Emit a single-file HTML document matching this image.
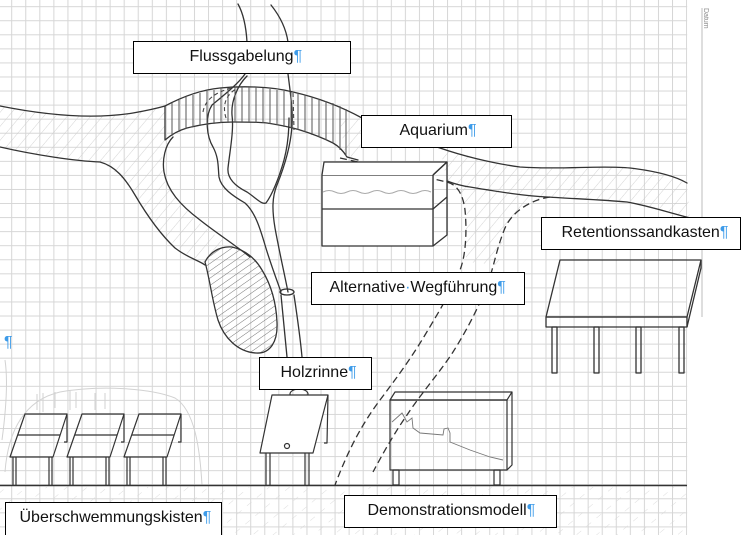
<!DOCTYPE html>
<html><head><meta charset="utf-8">
<style>
html,body{margin:0;padding:0;background:#fff;}
#w{position:relative;width:747px;height:535px;overflow:hidden;background:#fff;}
svg{position:absolute;left:0;top:0;}
.lb{position:absolute;box-sizing:border-box;border:1.5px solid #000;background:#fff;font-family:"Liberation Sans",sans-serif;font-size:16px;color:#111;white-space:nowrap;line-height:30px;height:33px;}
.p{color:#3d9be9;}
</style></head><body><div id="w">
<svg width="747" height="535" viewBox="0 0 747 535" xmlns="http://www.w3.org/2000/svg">
<defs>
<pattern id="grid" x="11.2" y="6.2" width="14.06" height="14.06" patternUnits="userSpaceOnUse">
<path d="M0.5,0 L0.5,14.06 M0,0.5 L14.06,0.5" stroke="#d6d6d6" stroke-width="1" fill="none"/>
</pattern>
<pattern id="lh" width="9" height="9" patternUnits="userSpaceOnUse" patternTransform="rotate(40)">
<line x1="0" y1="0" x2="0" y2="9" stroke="#c9c9c9" stroke-width="0.8"/>
</pattern>
<pattern id="lh2" width="13" height="13" patternUnits="userSpaceOnUse" patternTransform="rotate(50)">
<line x1="0" y1="0" x2="0" y2="6" stroke="#d4d4d4" stroke-width="0.8"/>
</pattern>
<pattern id="dh" width="6" height="6" patternUnits="userSpaceOnUse" patternTransform="rotate(55)">
<line x1="0" y1="0" x2="0" y2="6" stroke="#666" stroke-width="0.9"/>
</pattern>
</defs>
<rect x="0" y="0" width="687.2" height="535" fill="url(#grid)"/>
<!-- right paper edge -->
<line x1="702" y1="8" x2="702" y2="317" stroke="#bdbdbd" stroke-width="1"/>
<text x="0" y="0" transform="translate(704,8) rotate(90)" font-family="Liberation Sans, sans-serif" font-size="7" fill="#888">Datum</text>

<!-- light hatched regions -->
<path d="M0,106 C40,114 90,120 133,113 C150,110 158,108 165,106 L165,140 C160,150 162,165 168,182 C178,205 200,225 225,242 L205,264 C185,255 165,238 150,220 C138,200 122,172 100,162 C70,160 30,154 0,147 Z" fill="url(#lh)"/>
<path d="M440,148 C470,157 500,164 520,167 C560,170 600,165 630,168 C655,171 675,176 687,183 L690,218 C672,212 655,206 627,202 C590,199 560,198 547,197 C530,202 512,212 505,228 L498,265 L466,262 L466,215 C462,195 458,186 447,181 Z" fill="url(#lh)"/>
<path d="M340,120 L362,118 L360,157 L345,156 Z" fill="url(#lh)"/>
<rect x="0" y="487" width="687" height="48" fill="url(#lh2)"/>

<!-- dense hatched lobe -->
<path d="M205,262 C210,280 212,300 218,320 C224,338 238,352 256,353 C270,354 278,342 277,322 C276,300 270,283 262,270 C255,258 245,250 232,247 C220,246 210,252 205,262 Z" fill="url(#dh)" stroke="#333" stroke-width="1.3"/>

<g fill="none" stroke="#333" stroke-width="1.3" stroke-linecap="round" stroke-linejoin="round">
<!-- upper river line -->
<path d="M0,106 C40,114 90,120 133,113 C150,110 158,108 165,106 C180,98 200,90 220,88 C240,86 270,86 293,92 C315,97 340,106 362,118 C390,130 420,142 440,148 C460,155 490,163 520,167 C560,170 600,165 630,168 C655,171 675,176 687,183"/>
<!-- band lower line -->
<path d="M165,106 L165,140 C172,134 180,130 187,128 C203,124 220,122 233,122 C250,122 260,122 267,123 C280,125 290,127 300,130 C313,134 323,138 333,143 C340,147 344,152 347,157 L358,160"/>
<!-- lower right line -->
<path d="M447,181 C455,184 462,186 470,187 C500,192 525,196 547,197 C580,199 605,200 627,202 C645,205 660,210 690,218"/>
<!-- outer left line -->
<path d="M0,147 C35,155 75,161 100,162 C115,166 125,178 135,195 C145,212 158,232 175,248 C188,258 198,260 205,265"/>
<!-- inner island outline -->
<path d="M173,137 C165,145 162,160 164,172 C167,190 180,205 200,220 C215,232 235,245 250,257"/>
<!-- strands -->
<path d="M238,4 C243,13 246,25 247,42"/>
<path d="M245,74 C238,84 224,95 212,105 C205,116 206,135 213,147 C219,158 218,168 219,177 C221,188 233,196 245,203 C255,212 260,228 265,245 C270,262 276,278 281,292"/>
<path d="M271,5 C279,15 286,28 288,42"/>
<path d="M288,74 C290,90 293,110 292,125 C291,145 285,165 277,185 C272,197 272,210 275,228 C279,250 284,272 288,292"/>
<path d="M247,76 C238,85 231,100 232,115 C234,130 230,150 228,168 C227,178 235,186 247,192 C256,198 262,205 266,203 C272,195 279,178 284,160 C288,145 289,130 289,118"/>
<!-- chute -->
<ellipse cx="287" cy="292" rx="7" ry="3"/>
<path d="M281,295 C283,315 285,335 287,357"/>
<path d="M294,295 C297,315 300,335 302,357"/>
</g>

<!-- band vertical hatch -->
<path stroke="#555" stroke-width="1" fill="none" d="M172,103 L172,136 M179,100 L179,132 M186,97 L186,129 M193,95 L193,127 M200,93 L200,126 M207,91 L207,125 M214,90 L214,124 M221,88 L221,123 M228,88 L228,123 M235,87 L235,122 M242,87 L242,122 M249,87 L249,122 M256,87 L256,123 M263,88 L263,123 M270,89 L270,124 M277,90 L277,125 M284,91 L284,127 M291,92 L291,128 M298,93 L298,130 M305,95 L305,132 M312,97 L312,135 M319,99 L319,137 M326,101 L326,140 M333,103 L333,143 M340,106 L340,150 M346,109 L346,156"/>
<!-- dashed bits in band -->
<g fill="none" stroke="#444" stroke-width="1.1" stroke-dasharray="4 3">
<path d="M203,112 C205,100 215,92 232,88"/>
<path d="M226,118 C222,105 226,95 236,89"/>
<path d="M293,93 L294,130"/>
</g>

<!-- Alternative Wegführung dashed paths -->
<g fill="none" stroke="#333" stroke-width="1.3" stroke-dasharray="7 4">
<path d="M340,158 L447,182 C458,185 463,195 465,210 C467,230 466,255 460,270 C452,290 440,310 425,335 C410,360 395,380 380,400 C365,420 350,445 335,485"/>
<path d="M550,197 C530,200 512,212 505,228 C498,245 495,260 492,270 C485,295 470,325 453,352 C440,372 420,395 407,415 C395,432 382,455 373,472"/>
</g>

<g fill="none" stroke="#333" stroke-width="1.3" stroke-linejoin="round">
<!-- Aquarium -->
<rect x="322" y="175" width="111" height="71" fill="#fff"/>
<path d="M322,175 L324,162 L447,162 L433,175" fill="#fff"/>
<path d="M433,175 L447,162 L447,235 L433,246"/>
<path d="M322,209 L433,209 L447,197"/>
</g>
<path d="M323,192 q6,-3 12,0 t12,0 t12,0 t12,0 t12,0 t12,0 t12,0 t12,0 t12,0" fill="none" stroke="#aaa" stroke-width="1"/>

<!-- Retentionssandkasten -->
<g fill="none" stroke="#333" stroke-width="1.3" stroke-linejoin="round">
<path d="M560,260 L701,260 L687,317 L546,317 Z"/>
<rect x="546" y="317" width="141" height="10"/>
<path d="M701,260 L701,268 L687,327"/>
<rect x="552" y="327" width="5" height="46"/>
<rect x="594" y="327" width="5" height="46"/>
<rect x="636" y="327" width="5" height="46"/>
<rect x="679" y="327" width="5" height="46"/>
</g>

<!-- faint pencil -->
<g fill="none" stroke="#d2d2d2" stroke-width="1">
<path d="M5,472 C8,430 25,400 60,392 C100,385 150,388 175,398 C195,410 200,450 202,485"/>
<path d="M37,394 L37,410 M43,393 L43,412 M55,392 L55,408 M70,391 L70,410 M76,392 L76,408 M95,393 L95,410 M105,393 L105,409"/>
<path d="M2,440 C6,410 8,380 5,360"/>
</g>

<!-- ground line -->
<line x1="0" y1="485.5" x2="687" y2="485.5" stroke="#333" stroke-width="1.5"/>

<!-- Überschwemmungskisten -->
<g fill="none" stroke="#333" stroke-width="1.2" stroke-linejoin="round">
<g>
<path d="M25,414 L67,414 L53,457 L10,457 Z"/>
<path d="M18,435 L60,435"/>
<path d="M67,414 L67,442 L64,442"/>
<path d="M13,457 L13,485 M16,457 L16,485 M49,457 L49,485 M52,457 L52,485"/>
</g>
<g transform="translate(57,0)">
<path d="M25,414 L67,414 L53,457 L10,457 Z"/>
<path d="M18,435 L60,435"/>
<path d="M67,414 L67,442 L64,442"/>
<path d="M13,457 L13,485 M16,457 L16,485 M49,457 L49,485 M52,457 L52,485"/>
</g>
<g transform="translate(114,0)">
<path d="M25,414 L67,414 L53,457 L10,457 Z"/>
<path d="M18,435 L60,435"/>
<path d="M67,414 L67,442 L64,442"/>
<path d="M13,457 L13,485 M16,457 L16,485 M49,457 L49,485 M52,457 L52,485"/>
</g>
<!-- Holzrinne box -->
<ellipse cx="299" cy="394" rx="9" ry="5"/>
<path d="M272,395 L328,395 L313,453 L260,453 Z" fill="#fff"/>
<path d="M328,395 L327,443 L324,443"/>
<path d="M266,453 L266,485 M270,453 L270,485 M305,453 L305,485 M309,453 L309,485"/>
<circle cx="287" cy="446" r="2.5"/>
<!-- Demonstrationsmodell -->
<path d="M395,392 L512,392 L507,400 L390,400 Z"/>
<rect x="390" y="400" width="117" height="70"/>
<path d="M512,392 L512,465 L507,470"/>
<rect x="393" y="470" width="6" height="15"/>
<rect x="494" y="470" width="6" height="15"/>
</g>
<path d="M392,422 L402,413 L407,422 L412,418 L413,428 L420,433 L443,435 L444,429 L448,428 L450,433 L450,442 L470,450 L490,457 L503,460" fill="none" stroke="#777" stroke-width="0.9"/>
</svg>

<div class="lb" style="left:133px;top:41px;width:218px;padding-left:55.5px;">Flussgabelung<span class="p">¶</span></div>
<div class="lb" style="left:361px;top:115px;width:151px;padding-left:37.5px;">Aquarium<span class="p">¶</span></div>
<div class="lb" style="left:541px;top:217px;width:200px;padding-left:19.5px;">Retentionssandkasten<span class="p">¶</span></div>
<div class="lb" style="left:311px;top:272px;width:214px;padding-left:17.5px;">Alternative<span class="p">·</span>Wegführung<span class="p">¶</span></div>
<div class="lb" style="left:259px;top:357px;width:113px;padding-left:20.5px;">Holzrinne<span class="p">¶</span></div>
<div class="lb" style="left:5px;top:502px;width:217px;height:36px;padding-left:13.5px;">Überschwemmungskisten<span class="p">¶</span></div>
<div class="lb" style="left:344px;top:495px;width:213px;padding-left:22.5px;">Demonstrationsmodell<span class="p">¶</span></div>
<div style="position:absolute;left:4px;top:333px;font-family:'Liberation Sans',sans-serif;font-size:16px;line-height:20px;color:#3d9be9;">¶</div>
</div></body></html>
